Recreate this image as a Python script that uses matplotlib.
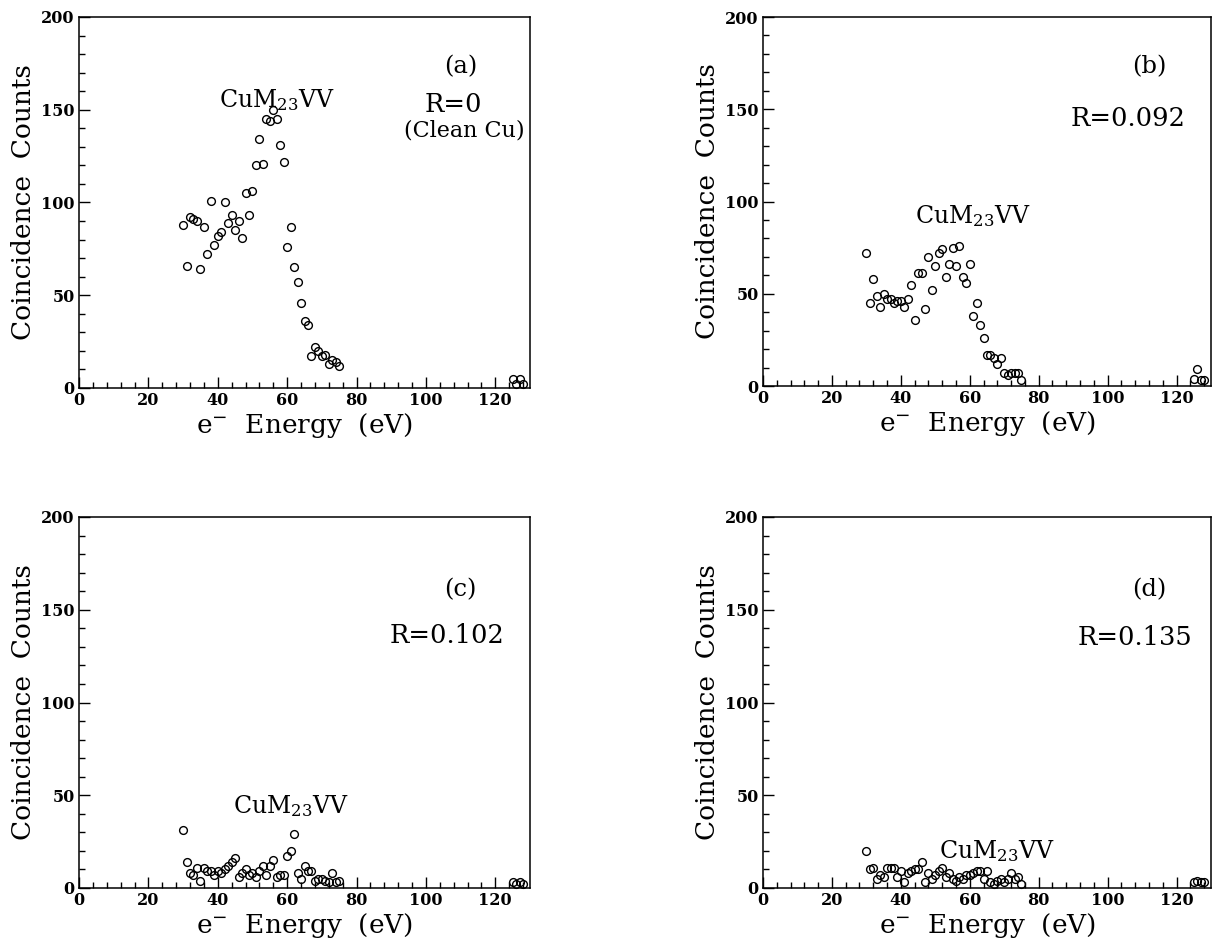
import matplotlib
matplotlib.use("Agg")
import matplotlib.pyplot as plt
from matplotlib.ticker import MultipleLocator

plt.rcParams['font.family'] = ['DejaVu Serif']
plt.rcParams['mathtext.fontset'] = 'dejavuserif'

energy = list(range(30, 76))
energy_tail = [125, 126, 127, 128]

counts_a = [88, 66, 92, 91, 90, 64, 87, 72, 101, 77, 82, 84, 100, 89, 93, 85, 90, 81, 105, 93,
            106, 120, 134, 121, 145, 144, 150, 145, 131, 122, 76, 87, 65, 57, 46, 36, 34, 17, 22, 20,
            17, 18, 13, 15, 14, 12]
tail_a = [5, 2, 5, 2]

counts_b = [72, 45, 58, 49, 43, 50, 47, 47, 45, 46, 46, 43, 47, 55, 36, 61, 61, 42, 70, 52,
            65, 72, 74, 59, 66, 75, 65, 76, 59, 56, 66, 38, 45, 33, 26, 17, 17, 15, 12, 15,
            7, 6, 7, 7, 7, 3]
tail_b = [4, 9, 3, 3]

counts_c = [31, 14, 8, 7, 11, 4, 11, 9, 9, 7, 9, 8, 10, 12, 14, 16, 6, 8, 10, 7,
            8, 6, 9, 12, 7, 12, 15, 6, 7, 7, 17, 20, 29, 8, 5, 12, 9, 9, 4, 5,
            5, 4, 3, 8, 3, 4]
tail_c = [3, 2, 3, 2]

counts_d = [20, 10, 11, 5, 7, 6, 11, 11, 11, 6, 9, 3, 8, 9, 10, 10, 14, 3, 8, 5,
            7, 9, 11, 6, 8, 5, 4, 6, 5, 7, 7, 8, 9, 9, 5, 9, 3, 2, 4, 5,
            3, 5, 8, 5, 6, 2]
tail_d = [3, 4, 3, 3]

panel_labels = ['(a)', '(b)', '(c)', '(d)']
r_labels = ['R=0', 'R=0.092', 'R=0.102', 'R=0.135']
clean_label = '(Clean Cu)'
peak_label = r'CuM$_{23}$VV'

fig = plt.figure(figsize=(12.12, 9.43), dpi=100)
W, H = 1212, 943
boxes = [(79, 17, 530, 388), (763, 17, 1211, 386), (79, 517, 530, 888), (763, 517, 1211, 888)]

panels = [
    (counts_a, tail_a, (110, 173), (108, 153), (57, 155)),
    (counts_b, tail_b, (112, 173), (106, 145), (61, 92)),
    (counts_c, tail_c, (110, 161), (106, 136), (61, 44)),
    (counts_d, tail_d, (112, 161), (108, 135), (68, 20)),
]

for i, (box, (cts, tail, plab, rlab, cu)) in enumerate(zip(boxes, panels)):
    l, t, r, b = box
    ax = fig.add_axes([l / W, 1 - b / H, (r - l) / W, (b - t) / H])
    ax.plot(energy, cts, 'o', ms=5.6, mfc='none', mec='black', mew=1.0, clip_on=False)
    ax.plot(energy_tail, tail, 'o', ms=5.6, mfc='none', mec='black', mew=1.0, clip_on=False)
    ax.set_xlim(0, 130)
    ax.set_ylim(0, 200)
    ax.xaxis.set_major_locator(MultipleLocator(20))
    ax.xaxis.set_minor_locator(MultipleLocator(4))
    ax.yaxis.set_major_locator(MultipleLocator(50))
    ax.yaxis.set_minor_locator(MultipleLocator(10))
    ax.tick_params(which='both', direction='in', top=False, right=False, width=1)
    ax.tick_params(which='major', length=8, labelsize=11.5, pad=3)
    ax.tick_params(which='minor', length=4)
    for lab in ax.get_xticklabels() + ax.get_yticklabels():
        lab.set_fontweight('bold')
    for s in ax.spines.values():
        s.set_linewidth(1.1)
    ax.set_ylabel('Coincidence  Counts', fontsize=19, labelpad=4)
    ax.set_xlabel(r'e$^{-}$  Energy  (eV)', fontsize=19, labelpad=1)
    ax.text(plab[0], plab[1], panel_labels[i], fontsize=17.5, ha='center', va='center')
    ax.text(rlab[0], rlab[1], r_labels[i], fontsize=18.5, ha='center', va='center')
    if i == 0:
        ax.text(111, 139, clean_label, fontsize=16, ha='center', va='center')
    ax.text(cu[0], cu[1], peak_label, fontsize=17, ha='center', va='center')

fig.savefig('out.png', dpi=100)
